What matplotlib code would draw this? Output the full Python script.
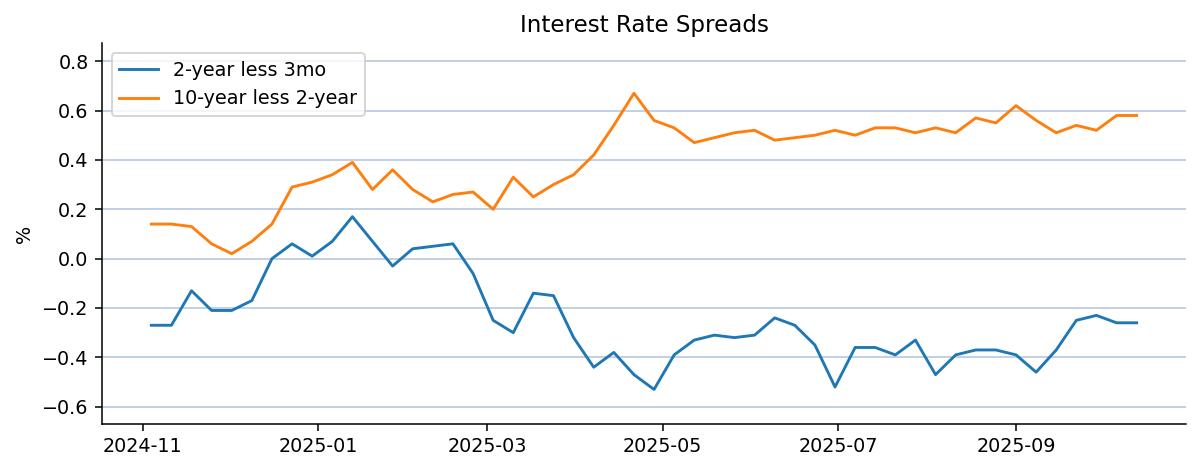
import numpy as np
import pandas as pd
import matplotlib
matplotlib.use('Agg')
import matplotlib.pyplot as plt
import matplotlib.dates as mdates

# weekly observations (Mondays)
dates = pd.date_range('2024-11-04', periods=50, freq='W-MON')

spread_2y_3m = [-0.27, -0.27, -0.13, -0.21, -0.21, -0.17, 0.00, 0.06, 0.01, 0.07,
                0.17, 0.07, -0.03, 0.04, 0.05, 0.06, -0.06, -0.25, -0.30, -0.14,
                -0.15, -0.32, -0.44, -0.38, -0.47, -0.53, -0.39, -0.33, -0.31, -0.32,
                -0.31, -0.24, -0.27, -0.35, -0.52, -0.36, -0.36, -0.39, -0.33, -0.47,
                -0.39, -0.37, -0.37, -0.39, -0.46, -0.37, -0.25, -0.23, -0.26, -0.26]

spread_10y_2y = [0.14, 0.14, 0.13, 0.06, 0.02, 0.07, 0.14, 0.29, 0.31, 0.34,
                 0.39, 0.28, 0.36, 0.28, 0.23, 0.26, 0.27, 0.20, 0.33, 0.25,
                 0.30, 0.34, 0.42, 0.54, 0.67, 0.56, 0.53, 0.47, 0.49, 0.51,
                 0.52, 0.48, 0.49, 0.50, 0.52, 0.50, 0.53, 0.53, 0.51, 0.53,
                 0.51, 0.57, 0.55, 0.62, 0.56, 0.51, 0.54, 0.52, 0.58, 0.58]

DPI = 138
fig = plt.figure(figsize=(1199 / DPI, 471 / DPI), dpi=DPI)
ax = fig.add_axes([0.0851, 0.0998, 0.904, 0.808])

ax.plot(dates, spread_2y_3m, color='#1f77b4', linewidth=1.5, label='2-year less 3mo')
ax.plot(dates, spread_10y_2y, color='#ff7f0e', linewidth=1.5, label='10-year less 2-year')

ax.set_ylim(-0.67, 0.872)
ax.yaxis.grid(True, color='#b0c4de', linewidth=0.8)
ax.set_axisbelow(True)
ax.spines['top'].set_visible(False)
ax.spines['right'].set_visible(False)

ax.xaxis.set_major_locator(mdates.MonthLocator(bymonth=[1, 3, 5, 7, 9, 11]))
ax.xaxis.set_major_formatter(mdates.DateFormatter('%Y-%m'))

ax.set_title('Interest Rate Spreads', fontsize=12)
ax.set_ylabel('%')
ax.legend(loc='upper left')

fig.savefig('out.png', dpi=DPI)
